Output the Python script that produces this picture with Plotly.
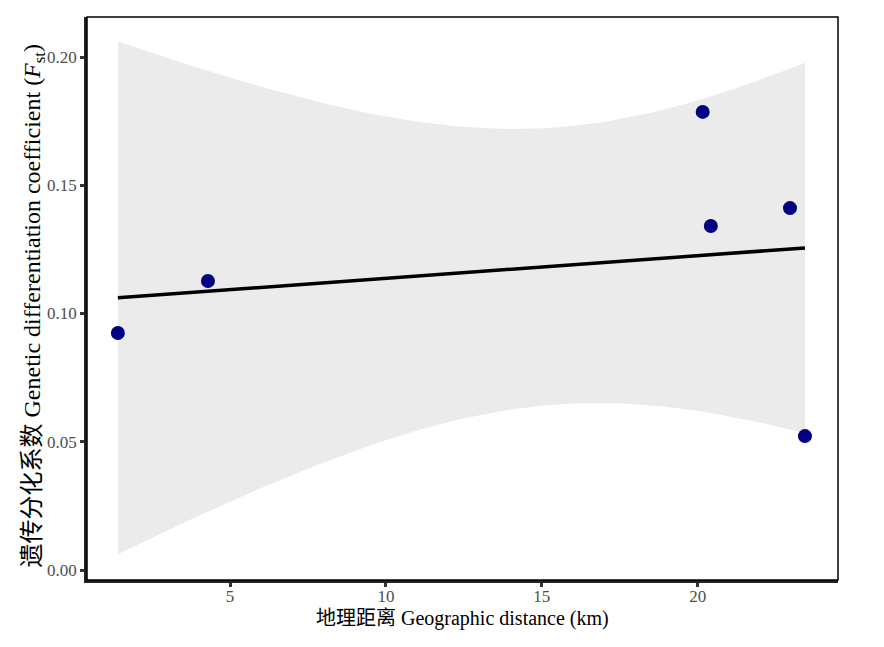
import numpy as np
import plotly.graph_objects as go

# data
distance_km = [1.40, 4.29, 20.16, 20.42, 22.96, 23.44]
fst = [0.0924, 0.1127, 0.1786, 0.1341, 0.1411, 0.0522]

x_ticks = [5, 10, 15, 20]
y_ticks = [0.00, 0.05, 0.10, 0.15, 0.20]

x_title = "地理距离 Geographic distance (km)"
y_title = "遗传分化系数 Genetic differentiation coefficient (<i>F</i><sub>st</sub>)"

# linear fit with 95% confidence band (like geom_smooth(method="lm"))
x = np.array(distance_km)
y = np.array(fst)
n = len(x)
slope, intercept = np.polyfit(x, y, 1)
resid = y - (intercept + slope * x)
s = np.sqrt(np.sum(resid**2) / (n - 2))
t_crit = 2.776  # t(0.975, df=4)
sxx = np.sum((x - x.mean()) ** 2)

grid = np.linspace(x.min(), x.max(), 80)
fit = intercept + slope * grid
se = s * np.sqrt(1 / n + (grid - x.mean()) ** 2 / sxx)
upper = fit + t_crit * se
lower = fit - t_crit * se

font_family = "Liberation Serif, Times New Roman, Noto Sans CJK SC, serif"

fig = go.Figure()

fig.add_trace(
    go.Scatter(
        x=np.concatenate([grid, grid[::-1]]),
        y=np.concatenate([upper, lower[::-1]]),
        fill="toself",
        fillcolor="rgb(235,235,235)",
        line=dict(width=0),
        mode="lines",
        hoverinfo="skip",
        showlegend=False,
    )
)

fig.add_trace(
    go.Scatter(
        x=grid,
        y=fit,
        mode="lines",
        line=dict(color="black", width=3.5),
        showlegend=False,
    )
)

fig.add_trace(
    go.Scatter(
        x=distance_km,
        y=fst,
        mode="markers",
        marker=dict(color="#000080", size=14),
        showlegend=False,
    )
)

# page body has an 8px margin, so the figure is sized to the visible area
fig.update_layout(
    width=876,
    height=639,
    margin=dict(l=79, r=46, t=9, b=67),
    plot_bgcolor="white",
    paper_bgcolor="white",
    font=dict(family=font_family, color="black"),
    shapes=[
        dict(
            type="rect",
            xref="paper",
            yref="paper",
            x0=0,
            y0=0,
            x1=1,
            y1=1,
            line=dict(color="black", width=1.5),
        )
    ],
    annotations=[
        dict(
            text=x_title,
            xref="paper",
            yref="paper",
            x=0.5,
            y=0,
            xanchor="center",
            yanchor="middle",
            yshift=-38,
            showarrow=False,
            font=dict(size=20, color="black"),
        ),
        dict(
            text=y_title,
            xref="paper",
            yref="paper",
            x=0,
            y=0.5,
            xanchor="center",
            yanchor="middle",
            xshift=-54,
            yshift=-7,
            textangle=-90,
            showarrow=False,
            font=dict(size=24, color="black"),
        ),
    ],
)

fig.update_xaxes(
    range=[0.41, 24.5],
    tickvals=x_ticks,
    ticks="outside",
    ticklen=4,
    tickwidth=2.5,
    tickcolor="#333333",
    tickfont=dict(size=17, color="#4d4d4d"),
    ticklabelstandoff=-5,
    showgrid=False,
    zeroline=False,
    showline=True,
    linecolor="#222222",
    linewidth=2.5,
)

fig.update_yaxes(
    range=[-0.0039, 0.2156],
    tickvals=y_ticks,
    tickformat=".2f",
    ticks="outside",
    ticklen=4,
    tickwidth=2.5,
    tickcolor="#333333",
    tickfont=dict(size=17, color="#4d4d4d"),
    showgrid=False,
    zeroline=False,
    showline=True,
    linecolor="#222222",
    linewidth=2.5,
)

fig.write_html("out.html")
